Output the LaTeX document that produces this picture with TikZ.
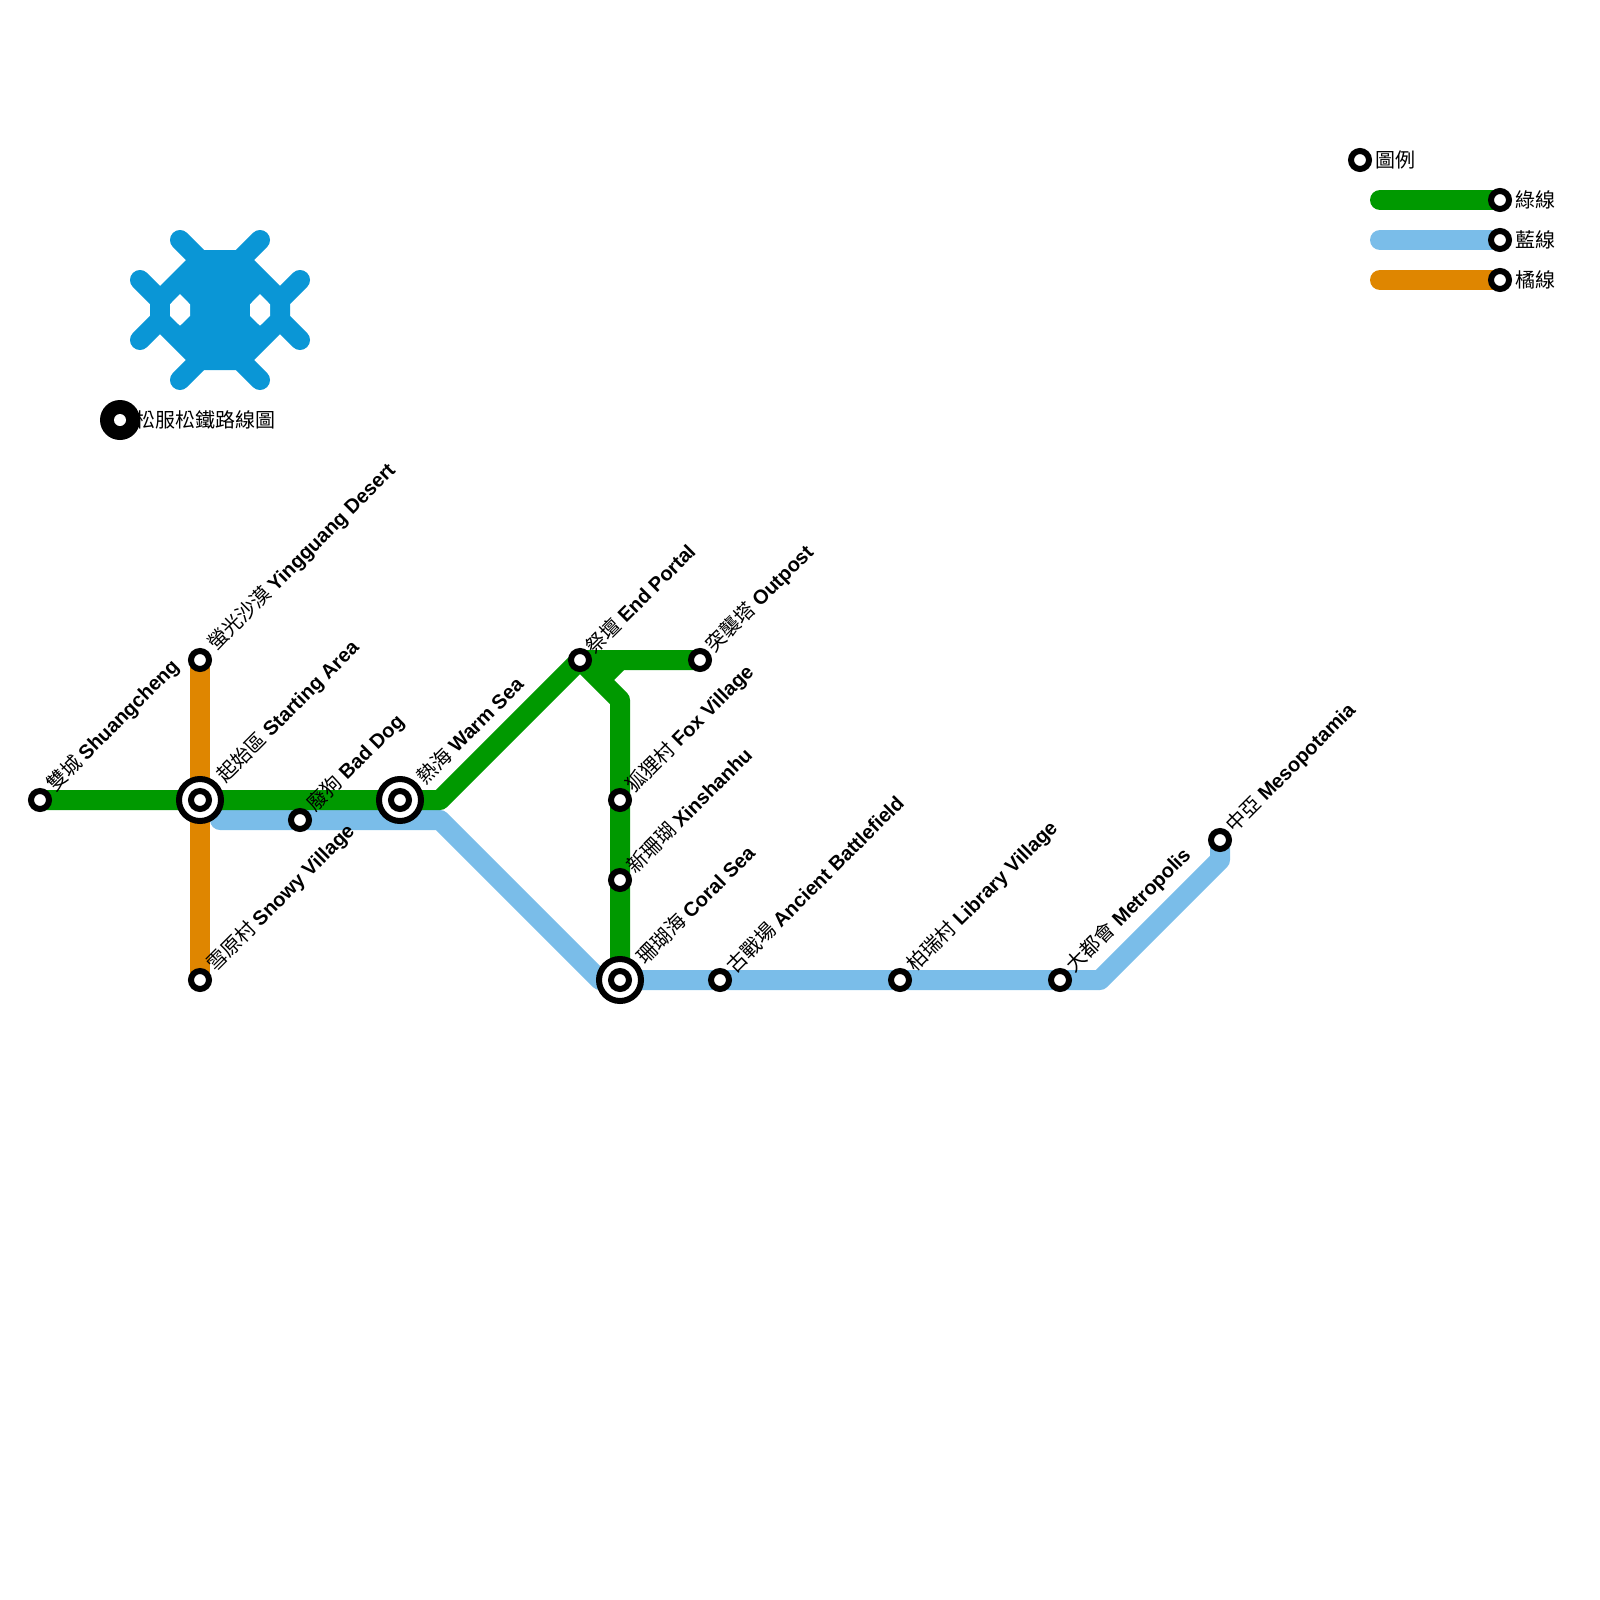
\documentclass[tikz,border=0pt]{standalone}
\usepackage{fontspec}
\setmainfont{Liberation Sans}
\newfontfamily\cjk{Noto Sans CJK TC}
\definecolor{lgreen}{HTML}{009900}
\definecolor{lblue}{HTML}{7ABDE9}
\definecolor{lorange}{HTML}{DF8600}
\definecolor{logoblue}{HTML}{0A96D6}
\tikzset{
  metro/.style={line width=20pt,line join=round,line cap=round},
  logoarm/.style={line width=20pt,draw=logoblue,line cap=round,line join=miter},
  stn/.style={circle,draw=black,fill=white,line width=6pt,minimum size=18pt,inner sep=0pt,outer sep=0pt},
  ostn/.style={circle,draw=black,fill=white,line width=6pt,minimum size=42pt,inner sep=0pt,outer sep=0pt},
  lab/.style={rotate=45,anchor=west,inner sep=0pt,font=\fontsize{20}{24}\selectfont},
  plainlab/.style={anchor=west,inner sep=0pt,font=\fontsize{20}{24}\selectfont}
}
\newcommand{\zh}[2]{{\cjk #1}\hspace{4.5pt}\textbf{#2}}
\begin{document}
\begin{tikzpicture}[x=1pt,y=-1pt]
\useasboundingbox (0,0) rectangle (1600,1600);
% logo
\fill[logoblue] (196,250)--(244,250)--(284,290)--(284,330)--(244,370)--(196,370)--(156,330)--(156,290)--cycle;
\draw[logoarm] (140,280)--(160,300)--(160,320)--(140,340);
\draw[logoarm] (300,280)--(280,300)--(280,320)--(300,340);
\draw[logoarm] (180,240)--(200,260);
\draw[logoarm] (260,240)--(240,260);
\draw[logoarm] (180,380)--(200,360);
\draw[logoarm] (260,380)--(240,360);
\fill[white] (170,304.3)--(180,294)--(190,304.3)--(190,316)--(180,325.7)--(170,316)--cycle;
\fill[white] (250,304.3)--(260,294)--(270,304.3)--(270,316)--(260,325.7)--(250,316)--cycle;
\node[plainlab] (logotext) at (135,420) {\cjk 松服松鐵路線圖};
\node[circle,fill=black,minimum size=40pt,inner sep=0pt] (logostn) at (120,420) {};
\node[circle,fill=white,minimum size=12pt,inner sep=0pt] (logostnc) at (120,420) {};
% stations coords
\coordinate (a) at (40,800);
\coordinate (b) at (200,800);
\coordinate (c) at (200,660);
\coordinate (d) at (200,980);
\coordinate (e) at (300,820);
\coordinate (f) at (400,800);
\coordinate (g) at (580,660);
\coordinate (h) at (700,660);
\coordinate (i) at (620,800);
\coordinate (j) at (620,880);
\coordinate (k) at (620,980);
\coordinate (l) at (720,980);
\coordinate (m) at (900,980);
\coordinate (n) at (1060,980);
\coordinate (o) at (1220,840);
% lines
\draw[metro,lorange,line cap=butt] (c)--(d);
\draw[metro,lblue] (220,820)--(440,820)--(600,980)--(1100,980)--(1220,860)--(o);
\draw[metro,lgreen,line cap=butt] (a)--(440,800)--(g)--(h);
\draw[metro,lgreen,line cap=butt] (620,660)--(600,680);
\draw[metro,lgreen,line cap=butt] (g)--(620,700)--(k);
% legend lines
\coordinate (lg) at (1500,200);
\coordinate (lb) at (1500,240);
\coordinate (lo) at (1500,280);
\draw[metro,lgreen] (1380,200)--(lg);
\draw[metro,lblue] (1380,240)--(lb);
\draw[metro,lorange] (1380,280)--(lo);
% stations
\foreach \p in {a,c,d,e,g,h,i,j,l,m,n,o,lg,lb,lo} \node[stn] (s\p) at (\p) {};
\foreach \p in {b,f,k} {\node[ostn] (o\p) at (\p) {}; \node[stn] (s\p) at (\p) {};}
\node[stn] (leg) at (1360,160) {};
% labels
\node[lab] (ta) at (50.5,788.5) {\zh{雙城}{Shuangcheng}};
\node[lab] (tc) at (211.5,647.5) {\zh{螢光沙漠}{Yingguang Desert}};
\node[lab] (tb) at (221,779) {\zh{起始區}{Starting Area}};
\node[lab] (td) at (210.5,968.5) {\zh{雪原村}{Snowy Village}};
\node[lab] (te) at (311,808) {\zh{廢狗}{Bad Dog}};
\node[lab] (tf) at (420,780) {\zh{熱海}{Warm Sea}};
\node[lab] (tg) at (589,650) {\zh{祭壇}{End Portal}};
\node[lab] (th) at (710,649) {\zh{突襲塔}{Outpost}};
\node[lab] (ti) at (630,789) {\zh{狐狸村}{Fox Village}};
\node[lab] (tj) at (630,869) {\zh{新珊瑚}{Xinshanhu}};
\node[lab] (tk) at (640,960) {\zh{珊瑚海}{Coral Sea}};
\node[lab] (tl) at (730,969) {\zh{古戰場}{Ancient Battlefield}};
\node[lab] (tm) at (911,968) {\zh{柏瑞村}{Library Village}};
\node[lab] (tn) at (1070,969) {\zh{大都會}{Metropolis}};
\node[lab] (to) at (1230,829) {\zh{中亞}{Mesopotamia}};
\node[plainlab] (tleg) at (1375,160) {\cjk 圖例};
\node[plainlab] (tlg) at (1515,200) {\cjk 綠線};
\node[plainlab] (tlb) at (1515,240) {\cjk 藍線};
\node[plainlab] (tlo) at (1515,280) {\cjk 橘線};
\end{tikzpicture}
\end{document}
